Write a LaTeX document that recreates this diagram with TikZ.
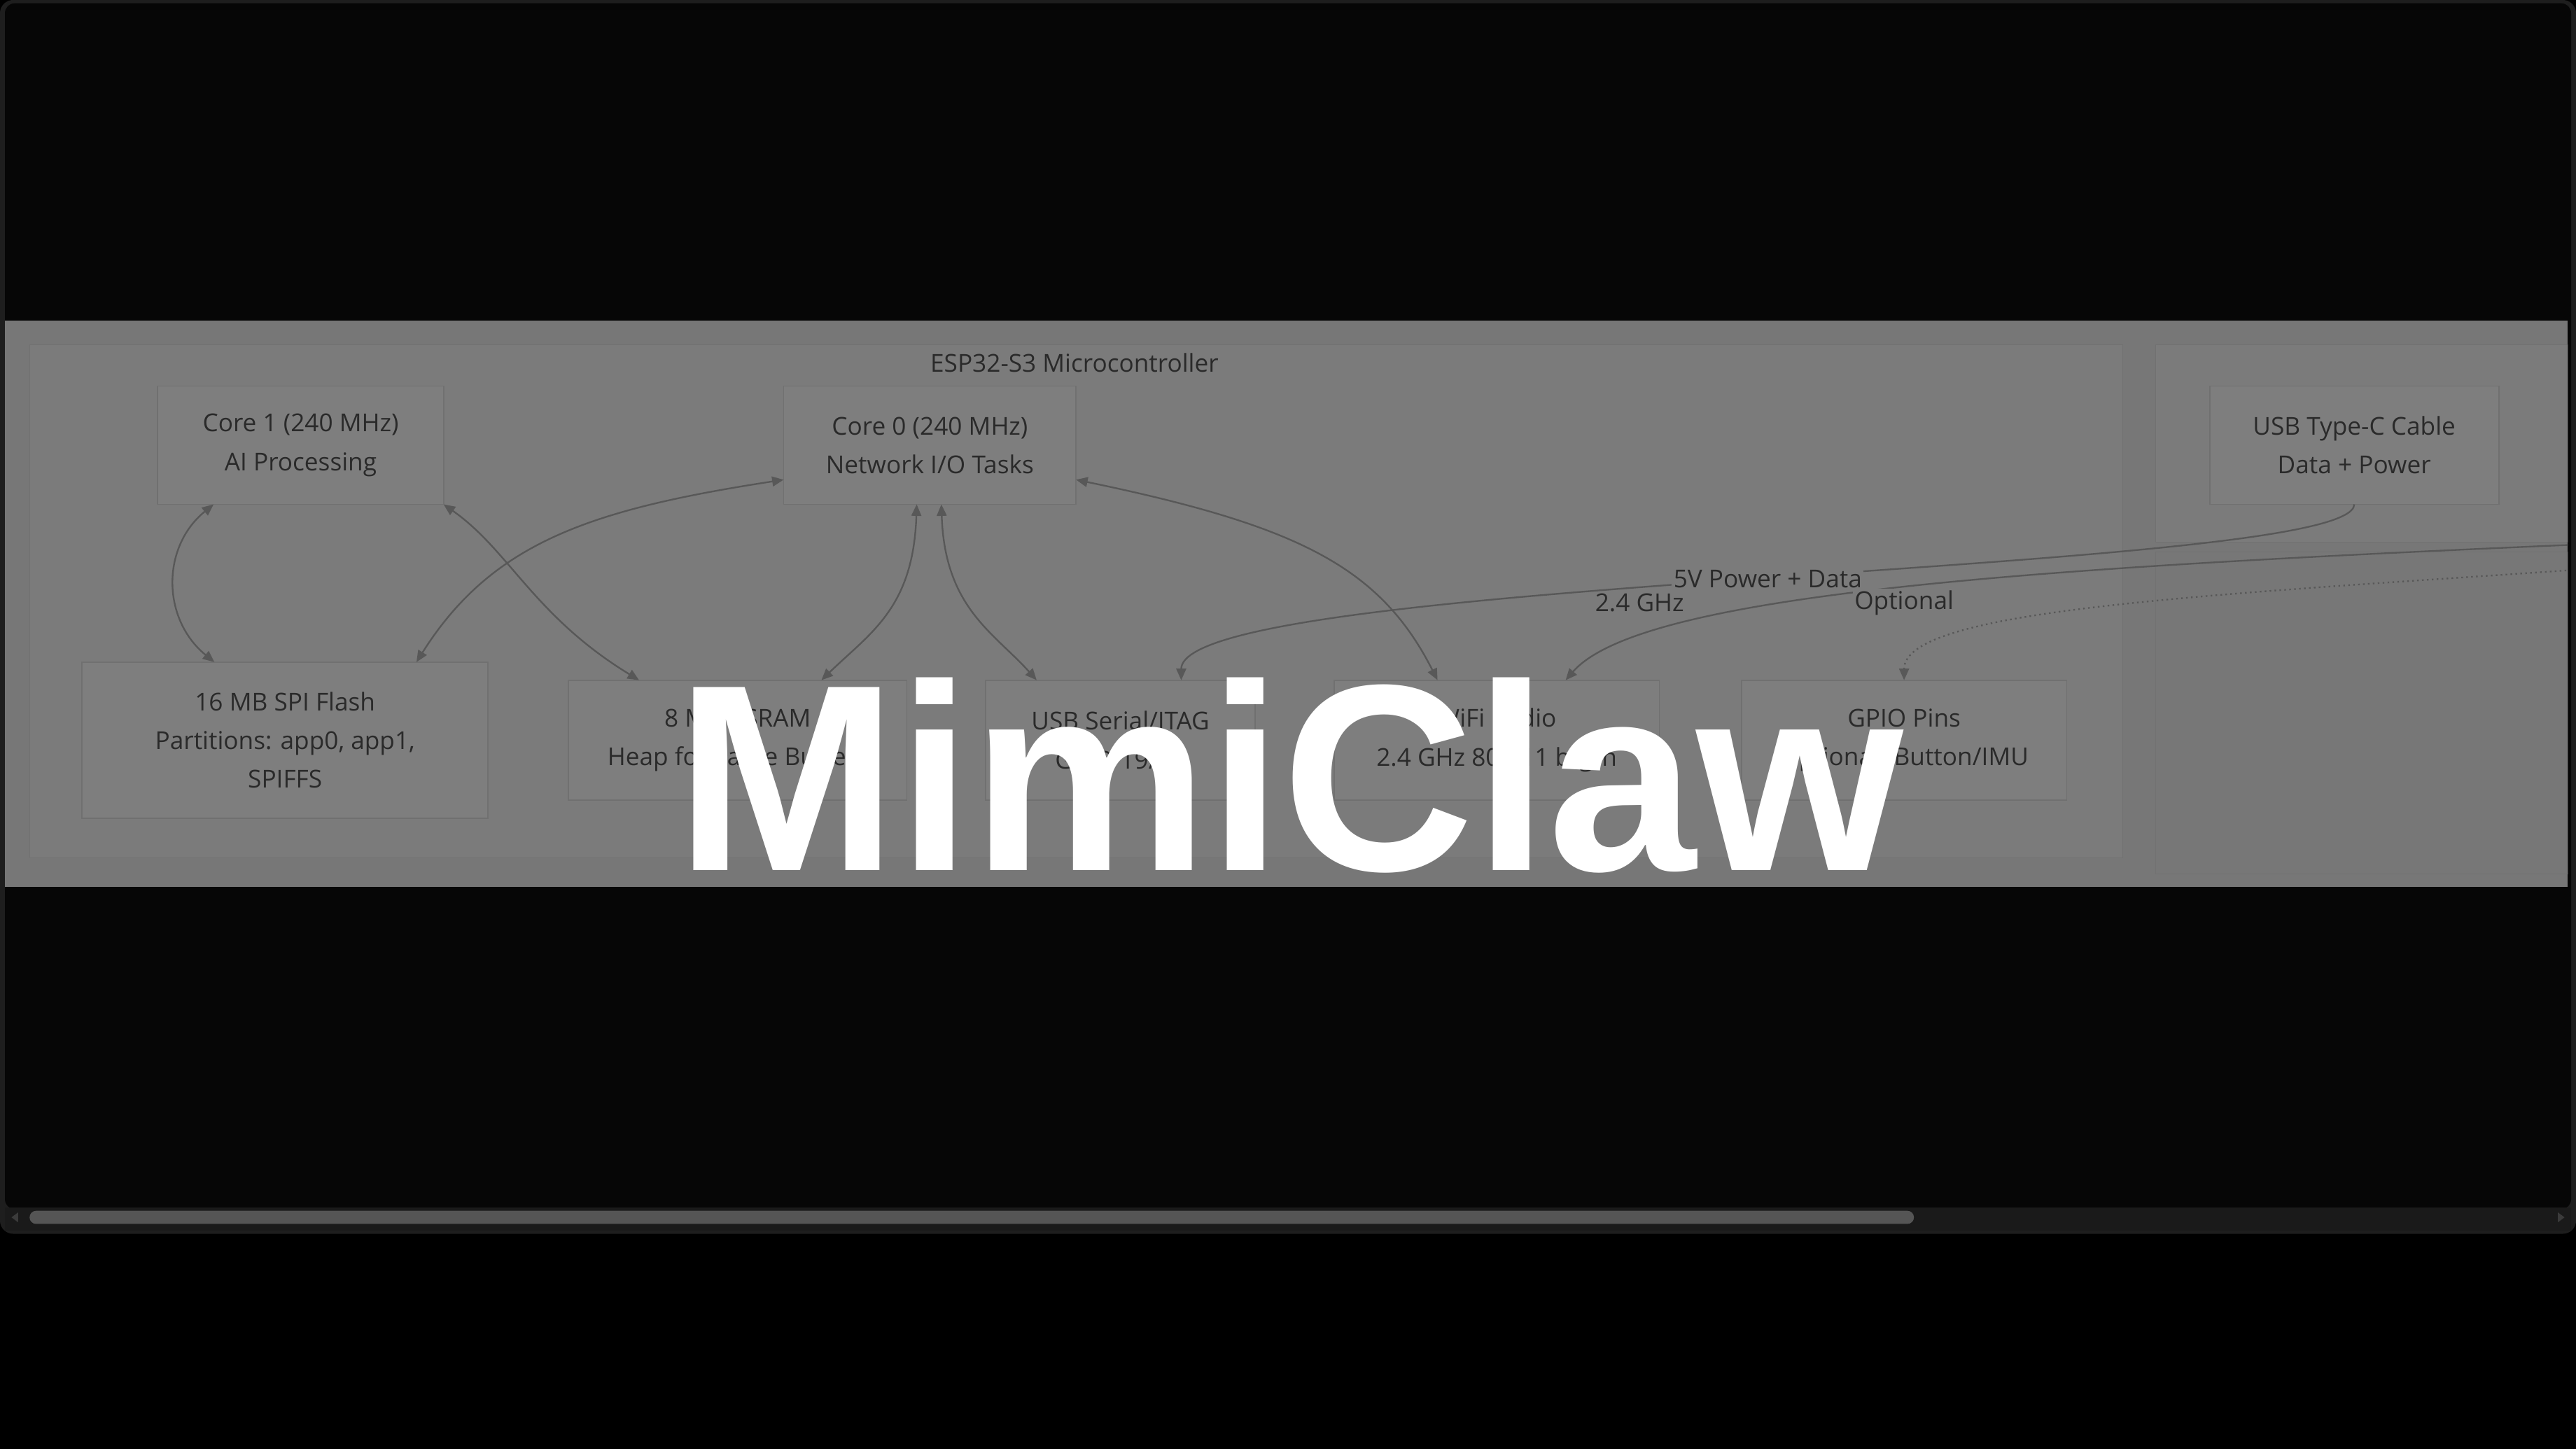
\documentclass[tikz,border=0pt]{standalone}
\usepackage{fontspec}
\newfontfamily\diagfont{Open Sans}
\newfontfamily\bannerfont{Liberation Sans}
\usetikzlibrary{arrows.meta, positioning}

\definecolor{winbg}{HTML}{060606}
\definecolor{winedge}{HTML}{1E1E1E}
\definecolor{trackgray}{HTML}{1A1A1A}
\definecolor{thumbgray}{HTML}{555555}
\definecolor{bandbg}{HTML}{777777}
\definecolor{clusterbg}{HTML}{7B7B7B}
\definecolor{clusteredge}{HTML}{717171}
\definecolor{boxbg}{HTML}{7E7E7E}
\definecolor{boxedge}{HTML}{707070}
\definecolor{inkgray}{HTML}{2A2A2A}
\definecolor{wiregray}{HTML}{585858}

\begin{document}
\begin{tikzpicture}[x=1pt, y=-1pt,
    every node/.style={font=\diagfont\fontsize{15}{23.5}\selectfont, text=inkgray,
                       inner sep=0pt, outer sep=0pt},
    blk/.style={draw=boxedge, fill=boxbg, line width=0.8pt, align=center, minimum height=73pt},
    lbl/.style={fill=clusterbg, inner sep=1pt},
    link/.style={draw=wiregray, line width=1pt, -{Triangle[length=7pt,width=6pt]}},
    duplex/.style={link, {Triangle[length=7pt,width=6pt]}-{Triangle[length=7pt,width=6pt]}},
    optlink/.style={link, dotted}]

    % Window and scrollbar
    \fill[black] (0,0) rectangle (1568,882);
    \fill[winedge, rounded corners=8pt] (0,0) rectangle (1568,751);
    \fill[winbg, rounded corners=6pt] (3,2) rectangle (1565,736);
    \fill[trackgray] (3,735) rectangle (1565,749);
    \fill[thumbgray, rounded corners=4pt] (18,737) rectangle (1165,745);
    \fill[thumbgray!70!black] (7,741) -- (11,738) -- (11,744) -- cycle;
    \fill[thumbgray!70!black] (1561,741) -- (1557,738) -- (1557,744) -- cycle;

    % Diagram band
    \fill[bandbg] (3,195) rectangle (1563,540);

    \begin{scope}
        \clip (3,195) rectangle (1563,540);

        % Clusters
        \draw[clusteredge, fill=clusterbg] (18,210) rectangle (1292,522);
        \draw[clusteredge, fill=clusterbg] (1312,210) rectangle (1600,330);
        \draw[clusteredge, fill=bandbg] (1312,336) rectangle (1600,532);
        \node (esp) at (654,221) {ESP32-S3 Microcontroller};

        % Top row
        \node (core1) [blk, minimum width=174pt, minimum height=72pt] at (183,271)
            {Core 1 (240 MHz)\\AI Processing};
        \node (core0) [blk, minimum width=178pt, minimum height=72pt] at (566,271)
            {Core 0 (240 MHz)\\Network I/O Tasks};
        \node (usbc) [blk, minimum width=176pt, minimum height=72pt] at (1433,271)
            {USB Type-C Cable\\Data + Power};

        % Bottom row
        \node (flash) [blk, minimum width=247pt, minimum height=95pt] at (173.5,450.5)
            {16 MB SPI Flash\\Partitions: app0, app1,\\SPIFFS};
        \node (psram) [blk, minimum width=206pt, right=49pt of flash]
            {8 MB PSRAM\\Heap for Large Buffers};
        \node (usbser) [blk, minimum width=164pt, right=48pt of psram]
            {USB Serial/JTAG\\GPIO 19/20};
        \node (wifi) [blk, minimum width=198pt, right=48pt of usbser]
            {WiFi Radio\\2.4 GHz 802.11 b/g/n};
        \node (gpio) [blk, minimum width=198pt, right=50pt of wifi]
            {GPIO Pins\\Optional: Button/IMU};

        % Off-screen sources on the right
        \coordinate (ap) at (1580,331);
        \coordinate (periph) at (1580,346);

        % Links
        \draw[duplex] ([xshift=-53pt]core1.south) .. controls +(-32,26) and +(-32,-26) .. ([xshift=-43pt]flash.north);
        \draw[duplex] (core1.south east) .. controls +(40,28) and +(-64,-39) .. ([xshift=-60pt]psram.north);
        \draw[duplex] ([yshift=-21pt]core0.west) .. controls +(-117,18) and +(46,-73) .. ([xshift=80pt]flash.north);
        \draw[duplex] ([xshift=-8pt]core0.south) .. controls +(-2,63) and +(30,-29) .. ([xshift=51pt]psram.north);
        \draw[duplex] ([xshift=7pt]core0.south) .. controls +(2,63) and +(-26,-29) .. ([xshift=-51pt]usbser.north);
        \draw[duplex] ([yshift=-21pt]core0.east) .. controls +(135,28) and +(-35,-69) .. ([xshift=-36pt]wifi.north);

        \draw[link] (usbc.south) .. controls +(0,43) and +(0,-64) .. ([xshift=37pt]usbser.north)
            node[lbl, pos=0.5] (l-power) {5V Power + Data};
        \draw[link] (ap) .. controls +(-330,14) and +(47,-54) .. ([xshift=42pt]wifi.north);
        \draw[optlink] (periph) .. controls +(-230,16) and +(0,-44) .. (gpio.north);

        \node[lbl] (l-radio) at (998,367) {2.4 GHz};
        \node[lbl] (l-opt) at (1159,367) {Optional};
    \end{scope}

    % Title overlay
    \node (banner) [anchor=base, text=white, font=\bannerfont\bfseries\fontsize{162}{162}\selectfont]
        at (785,530) {MimiClaw};

\end{tikzpicture}
\end{document}
